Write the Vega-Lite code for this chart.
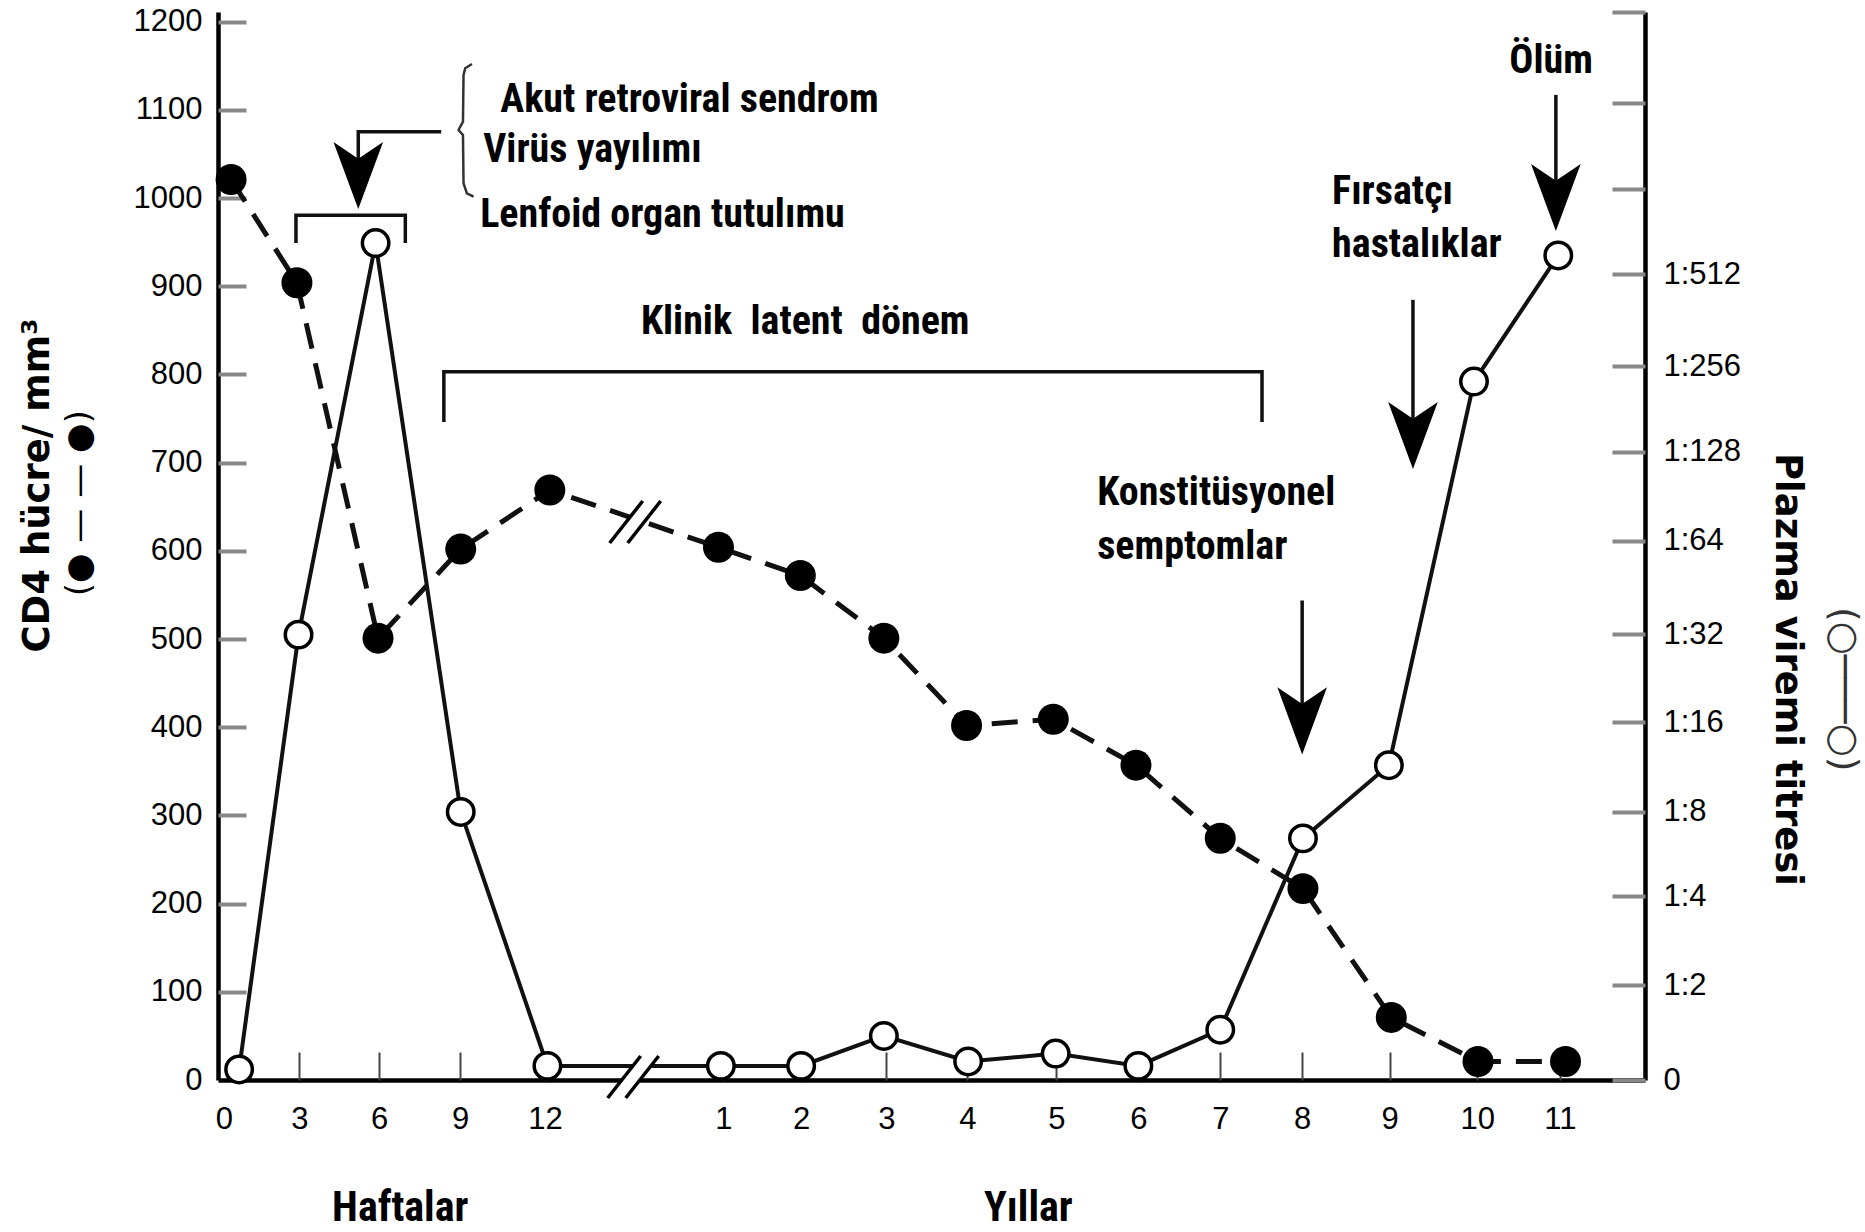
{
  "$schema": "https://vega.github.io/schema/vega-lite/v6.json",
  "width": 1427,
  "height": 1068,
  "autosize": {"type": "none"},
  "padding": {"left": 218, "top": 12, "right": 220, "bottom": 152},
  "background": "white",
  "config": {"view": {"stroke": null}, "axis": {"grid": false}},
  "datasets": {
    "cd4": [
      {"pos": 0.09, "cd4": 1021}, {"pos": 0.91, "cd4": 904}, {"pos": 1.92, "cd4": 501},
      {"pos": 2.95, "cd4": 602}, {"pos": 4.06, "cd4": 669}, {"pos": 6.16, "cd4": 604},
      {"pos": 7.18, "cd4": 572}, {"pos": 8.22, "cd4": 501}, {"pos": 9.25, "cd4": 402},
      {"pos": 10.33, "cd4": 409}, {"pos": 11.36, "cd4": 357}, {"pos": 12.41, "cd4": 274},
      {"pos": 13.44, "cd4": 217}, {"pos": 14.54, "cd4": 71}, {"pos": 15.62, "cd4": 21},
      {"pos": 16.71, "cd4": 21}
    ],
    "plazma": [
      {"pos": 0.19, "plazma": 12}, {"pos": 0.93, "plazma": 505}, {"pos": 1.89, "plazma": 949},
      {"pos": 2.95, "plazma": 304}, {"pos": 4.03, "plazma": 16}, {"pos": 6.19, "plazma": 16},
      {"pos": 7.19, "plazma": 16}, {"pos": 8.22, "plazma": 50}, {"pos": 9.27, "plazma": 21},
      {"pos": 10.36, "plazma": 30}, {"pos": 11.39, "plazma": 16}, {"pos": 12.41, "plazma": 57},
      {"pos": 13.44, "plazma": 274}, {"pos": 14.51, "plazma": 357}, {"pos": 15.57, "plazma": 792},
      {"pos": 16.62, "plazma": 935}
    ],
    "breaks": [
      {"pos": 5.098, "val": 3.4}, {"pos": 5.123, "val": 632.7}
    ],
    "paths": [
      {"g": "olum", "i": 1, "pos": 16.59, "val": 1117}, {"g": "olum", "i": 2, "pos": 16.59, "val": 1000.7},
      {"g": "firsat", "i": 1, "pos": 14.81, "val": 884.6}, {"g": "firsat", "i": 2, "pos": 14.81, "val": 730.8},
      {"g": "konst", "i": 1, "pos": 13.43, "val": 543.7}, {"g": "konst", "i": 2, "pos": 13.43, "val": 407.2},
      {"g": "akut", "i": 1, "pos": 2.707, "val": 1075.2}, {"g": "akut", "i": 2, "pos": 1.674, "val": 1075.2}, {"g": "akut", "i": 3, "pos": 1.674, "val": 1025.6},
      {"g": "br1", "i": 1, "pos": 0.898, "val": 949}, {"g": "br1", "i": 2, "pos": 0.898, "val": 980.4}, {"g": "br1", "i": 3, "pos": 2.26, "val": 980.4}, {"g": "br1", "i": 4, "pos": 2.26, "val": 949},
      {"g": "br2", "i": 1, "pos": 2.74, "val": 746}, {"g": "br2", "i": 2, "pos": 2.74, "val": 803}, {"g": "br2", "i": 3, "pos": 12.93, "val": 803}, {"g": "br2", "i": 4, "pos": 12.93, "val": 746}
    ],
    "brace": [
      {"i": 1, "pos": 3.09, "val": 1152}, {"i": 2, "pos": 3.006, "val": 1147.2}, {"i": 3, "pos": 2.985, "val": 1139.6},
      {"i": 4, "pos": 2.978, "val": 1086.6}, {"i": 5, "pos": 2.923, "val": 1077.2}, {"i": 6, "pos": 2.978, "val": 1071.5},
      {"i": 7, "pos": 2.985, "val": 1016.8}, {"i": 8, "pos": 3.027, "val": 1005.4}, {"i": 9, "pos": 3.11, "val": 1001.6}
    ],
    "heads": [
      {"pos": 1.674, "val": 1025.6}, {"pos": 16.59, "val": 1000.7},
      {"pos": 14.81, "val": 730.8}, {"pos": 13.43, "val": 407.2}
    ],
    "notesLeft": [
      {"pos": 3.443, "val": 1097.6, "text": "Akut retroviral sendrom"},
      {"pos": 3.23, "val": 1040.9, "text": "Virüs yayılımı"},
      {"pos": 3.193, "val": 967.2, "text": "Lenfoid organ tutulımu"},
      {"pos": 10.877, "val": 652, "text": "Konstitüsyonel"},
      {"pos": 10.877, "val": 590.7, "text": "semptomlar"},
      {"pos": 13.803, "val": 993.8, "text": "Fırsatçı"},
      {"pos": 13.803, "val": 933.2, "text": "hastalıklar"}
    ],
    "notesCenter": [
      {"pos": 7.24, "val": 846, "text": "Klinik \u00a0latent \u00a0dönem"},
      {"pos": 16.53, "val": 1141.8, "text": "Ölüm"}
    ],
    "xTitles": [
      {"pos": 2.197, "val": -160, "text": "Haftalar"},
      {"pos": 10.02, "val": -160, "text": "Yıllar"}
    ],
    "legendLeft": [{"pos": -1.788, "val": 654, "text": "(● — — ●)"}],
    "legendRight": [{"pos": 20.17, "val": 443, "text": "(○───○)"}]
  },
  "encoding": {
    "x": {"field": "pos", "type": "quantitative", "scale": {"domain": [-0.073, 17.7], "nice": false, "zero": false}, "axis": null}
  },
  "layer": [
    {
      "data": {"name": "cd4"},
      "mark": {"type": "line", "color": "#111", "strokeWidth": 5, "strokeDash": [26, 15]},
      "encoding": {
        "x": {
          "field": "pos", "type": "quantitative",
          "scale": {"domain": [-0.073, 17.7], "nice": false, "zero": false},
          "axis": {
            "title": null,
            "values": [0, 0.94, 1.935, 2.944, 4, 6.22, 7.19, 8.25, 9.26, 10.37, 11.39, 12.41, 13.43, 14.52, 15.61, 16.64],
            "labelExpr": "['0','3','6','9','12','1','2','3','4','5','6','7','8','9','10','11'][indexof([0,0.94,1.935,2.944,4,6.22,7.19,8.25,9.26,10.37,11.39,12.41,13.43,14.52,15.61,16.64], datum.value)]",
            "domainColor": "#000", "domainWidth": 4.5,
            "ticks": false,
            "labelFont": "Liberation Sans", "labelFontSize": 31, "labelColor": "#000",
            "labelPadding": 24, "labelOverlap": false, "labelFlush": false
          }
        },
        "y": {
          "field": "cd4", "type": "quantitative",
          "scale": {"domain": [0, 1211], "nice": false},
          "axis": {
            "orient": "left",
            "values": [0, 100, 200, 300, 400, 500, 600, 700, 800, 900, 1000, 1100, 1200],
            "format": "d",
            "domainColor": "#000", "domainWidth": 4.5,
            "ticks": false,
            "labelFont": "Liberation Sans", "labelFontSize": 31, "labelColor": "#000",
            "labelPadding": 16, "labelOverlap": false, "labelFlush": false,
            "title": "CD4 hücre/ mm³",
            "titleFont": "DejaVu Sans", "titleFontSize": 37, "titleFontWeight": "bold", "titleColor": "#000",
            "titleAngle": 270, "titleAlign": "center", "titleBaseline": "alphabetic",
            "titleX": -170, "titleY": 473
          }
        }
      }
    },
    {
      "data": {"name": "plazma"},
      "mark": {"type": "line", "color": "#111", "strokeWidth": 4},
      "encoding": {
        "y": {
          "field": "plazma", "type": "quantitative",
          "scale": {"domain": [0, 1211], "nice": false},
          "axis": {
            "orient": "right",
            "values": [0, 107.7, 208.6, 303.9, 405.9, 505.7, 611.2, 712.1, 809.6, 913.9, 1010.3, 1107.3, 1211],
            "labelExpr": "['0','1:2','1:4','1:8','1:16','1:32','1:64','1:128','1:256','1:512','','',''][indexof([0,107.7,208.6,303.9,405.9,505.7,611.2,712.1,809.6,913.9,1010.3,1107.3,1211], datum.value)]",
            "domainColor": "#000", "domainWidth": 4.5,
            "ticks": false,
            "labelFont": "Liberation Sans", "labelFontSize": 31, "labelColor": "#000",
            "labelPadding": 18, "labelOverlap": false, "labelFlush": false,
            "title": "Plazma viremi titresi",
            "titleFont": "DejaVu Sans", "titleFontSize": 37, "titleFontWeight": "bold", "titleColor": "#000",
            "titleAngle": 90, "titleAlign": "center", "titleBaseline": "alphabetic",
            "titleX": 130, "titleY": 657
          }
        }
      }
    },
    {
      "data": {"name": "breaks"},
      "mark": {"type": "point", "shape": "M-0.85,0.7L0.25,-0.7L0.85,-0.7L-0.25,0.7Z", "filled": true, "color": "white", "opacity": 1, "size": 3600},
      "encoding": {
        "y": {
          "field": "val", "type": "quantitative", "scale": {"domain": [0, 1211], "nice": false},
          "axis": {
            "orient": "right", "offset": -33, "domain": false, "labels": false, "title": null,
            "values": [0, 107.7, 208.6, 303.9, 405.9, 505.7, 611.2, 712.1, 809.6, 913.9, 1010.3, 1107.3, 1211],
            "ticks": true, "tickSize": 33, "tickColor": "#888", "tickWidth": 4
          }
        }
      }
    },
    {
      "data": {"name": "breaks"},
      "mark": {"type": "point", "shape": "M-0.85,0.7L0.25,-0.7M-0.25,0.7L0.85,-0.7", "filled": false, "color": "#000", "opacity": 1, "strokeWidth": 3.5, "size": 3600},
      "encoding": {"y": {"field": "val", "type": "quantitative", "scale": {"domain": [0, 1211], "nice": false}, "axis": null}}
    },
    {
      "data": {"name": "cd4"},
      "mark": {"type": "point", "shape": "circle", "filled": true, "color": "#000", "opacity": 1, "size": 960},
      "encoding": {
        "y": {
          "field": "cd4", "type": "quantitative", "scale": {"domain": [0, 1211], "nice": false},
          "axis": {
            "orient": "left", "offset": -28, "domain": false, "labels": false, "title": null,
            "values": [100, 200, 300, 400, 500, 600, 700, 800, 900, 1000, 1100, 1200],
            "ticks": true, "tickSize": 28, "tickColor": "#888", "tickWidth": 4
          }
        }
      }
    },
    {
      "data": {"name": "plazma"},
      "mark": {"type": "point", "shape": "circle", "filled": false, "fill": "white", "fillOpacity": 1, "stroke": "#000", "strokeWidth": 3.5, "opacity": 1, "size": 700},
      "encoding": {
        "x": {
          "field": "pos", "type": "quantitative",
          "scale": {"domain": [-0.073, 17.7], "nice": false, "zero": false},
          "axis": {
            "orient": "bottom", "offset": -28, "domain": false, "labels": false, "title": null,
            "values": [0.94, 1.935, 2.944, 4, 6.22, 7.19, 8.25, 9.26, 10.37, 11.39, 12.41, 13.43, 14.52, 15.61, 16.64],
            "ticks": true, "tickSize": 28, "tickColor": "#444", "tickWidth": 2
          }
        },
        "y": {"field": "plazma", "type": "quantitative", "scale": {"domain": [0, 1211], "nice": false}, "axis": null}
      }
    },
    {
      "data": {"name": "paths"},
      "mark": {"type": "line", "color": "#111", "strokeWidth": 3.5},
      "encoding": {
        "y": {"field": "val", "type": "quantitative", "scale": {"domain": [0, 1211], "nice": false}, "axis": null},
        "detail": {"field": "g"},
        "order": {"field": "i", "type": "quantitative"}
      }
    },
    {
      "data": {"name": "brace"},
      "mark": {"type": "line", "color": "#333", "strokeWidth": 2.5},
      "encoding": {
        "y": {"field": "val", "type": "quantitative", "scale": {"domain": [0, 1211], "nice": false}, "axis": null},
        "order": {"field": "i", "type": "quantitative"}
      }
    },
    {
      "data": {"name": "heads"},
      "mark": {"type": "point", "shape": "M-0.74,-1L0,-0.5L0.74,-1L0,1Z", "filled": true, "color": "#000", "opacity": 1, "size": 4500},
      "encoding": {"y": {"field": "val", "type": "quantitative", "scale": {"domain": [0, 1211], "nice": false}, "axis": null}}
    },
    {
      "data": {"name": "notesLeft"},
      "mark": {"type": "text", "align": "left", "baseline": "alphabetic", "font": "Roboto Condensed, Liberation Sans Narrow, Liberation Sans", "fontWeight": "bold", "fontSize": 40, "color": "#000"},
      "encoding": {
        "y": {"field": "val", "type": "quantitative", "scale": {"domain": [0, 1211], "nice": false}, "axis": null},
        "text": {"field": "text"}
      }
    },
    {
      "data": {"name": "notesCenter"},
      "mark": {"type": "text", "align": "center", "baseline": "alphabetic", "font": "Roboto Condensed, Liberation Sans Narrow, Liberation Sans", "fontWeight": "bold", "fontSize": 40, "color": "#000"},
      "encoding": {
        "y": {"field": "val", "type": "quantitative", "scale": {"domain": [0, 1211], "nice": false}, "axis": null},
        "text": {"field": "text"}
      }
    },
    {
      "data": {"name": "xTitles"},
      "mark": {"type": "text", "align": "center", "baseline": "alphabetic", "font": "Roboto Condensed, Liberation Sans Narrow, Liberation Sans", "fontWeight": "bold", "fontSize": 42, "color": "#000"},
      "encoding": {
        "y": {"field": "val", "type": "quantitative", "scale": {"domain": [0, 1211], "nice": false}, "axis": null},
        "text": {"field": "text"}
      }
    },
    {
      "data": {"name": "legendLeft"},
      "mark": {"type": "text", "align": "center", "baseline": "middle", "angle": 270, "font": "DejaVu Sans", "fontSize": 34, "color": "#000"},
      "encoding": {
        "y": {"field": "val", "type": "quantitative", "scale": {"domain": [0, 1211], "nice": false}, "axis": null},
        "text": {"field": "text"}
      }
    },
    {
      "data": {"name": "legendRight"},
      "mark": {"type": "text", "align": "center", "baseline": "middle", "angle": 90, "font": "DejaVu Sans", "fontSize": 38, "color": "#333"},
      "encoding": {
        "y": {"field": "val", "type": "quantitative", "scale": {"domain": [0, 1211], "nice": false}, "axis": null},
        "text": {"field": "text"}
      }
    }
  ],
  "resolve": {"axis": {"x": "independent", "y": "independent"}}
}
